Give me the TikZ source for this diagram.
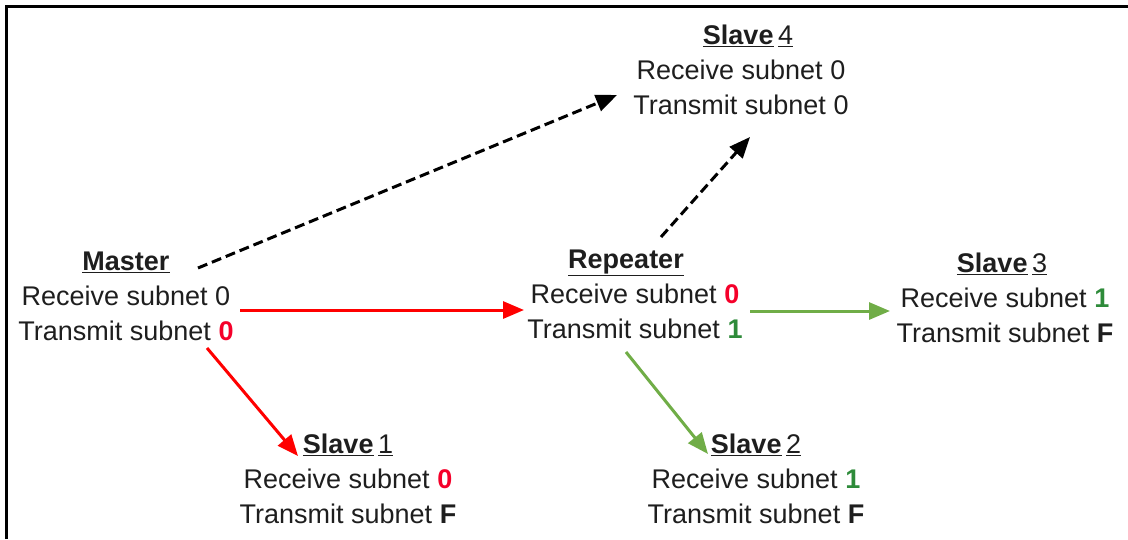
\documentclass[tikz,border=0pt]{standalone}
\usepackage{fontspec}
\setmainfont{Liberation Sans}
\usetikzlibrary{arrows.meta,calc}
\definecolor{txt}{HTML}{1E1E1E}
\definecolor{arred}{HTML}{FF0000}
\definecolor{txtred}{HTML}{F5002A}
\definecolor{argreen}{HTML}{70AD47}
\definecolor{txtgreen}{HTML}{2E8B3A}
\newcommand{\rz}{\textcolor{txtred}{\textbf{0}}}
\newcommand{\gone}{\textcolor{txtgreen}{\textbf{1}}}
\tikzset{
  dev/.style={align=center, inner sep=0pt, text=txt,
    font=\fontsize{27}{35}\selectfont},
  conn/.style={line width=3pt, -{Triangle[length=21pt,width=17pt]}},
  redconn/.style={conn, draw=arred, fill=arred},
  greenconn/.style={conn, draw=argreen, fill=argreen},
  dashconn/.style={conn, draw=black, dash pattern=on 10pt off 5pt},
}
\begin{document}
\begin{tikzpicture}[x=1pt,y=-1pt]
\useasboundingbox (0,0) rectangle (1128,539);
\draw[line width=3pt] (6,539) -- (6,6) -- (1128,6);

\node[dev] (master) at (126,296) {\underline{\textbf{Master}}\\Receive subnet 0\\Transmit subnet \rz};
\node[dev] (rep) at (635,294) {\underline{\textbf{Repeater}}\hspace*{18pt}\\Receive subnet \rz\\Transmit subnet \gone};
\node[dev] (s4) at (741,70) {\hspace*{14pt}\underline{\textbf{Slave}}\,\underline{4}\\Receive subnet 0\\Transmit subnet 0};
\node[dev] (s3) at (1005,298) {\underline{\textbf{Slave}}\,\underline{3}\hspace*{6pt}\\Receive subnet \gone\\Transmit subnet \textbf{F}};
\node[dev] (s1) at (348,479) {\underline{\textbf{Slave}}\,\underline{1}\\Receive subnet \rz\\Transmit subnet \textbf{F}};
\node[dev] (s2) at (756,479) {\underline{\textbf{Slave}}\,\underline{2}\\Receive subnet \gone\\Transmit subnet \textbf{F}};

\draw[dashconn] ($(master)+(72,-28)$) -- ($(s4)+(-124,25)$);
\draw[dashconn] ($(rep)+(26,-57)$) -- ($(s4)+(9,67)$);
\draw[redconn] ($(master)+(114,14)$) -- ($(rep)+(-111,16)$);
\draw[redconn] ($(master)+(81,52)$) -- ($(s1)+(-50,-23)$);
\draw[greenconn] ($(rep)+(115,17)$) -- ($(s3)+(-115,13)$);
\draw[greenconn] ($(rep)+(-9,58)$) -- ($(s2)+(-48,-25)$);
\end{tikzpicture}
\end{document}
